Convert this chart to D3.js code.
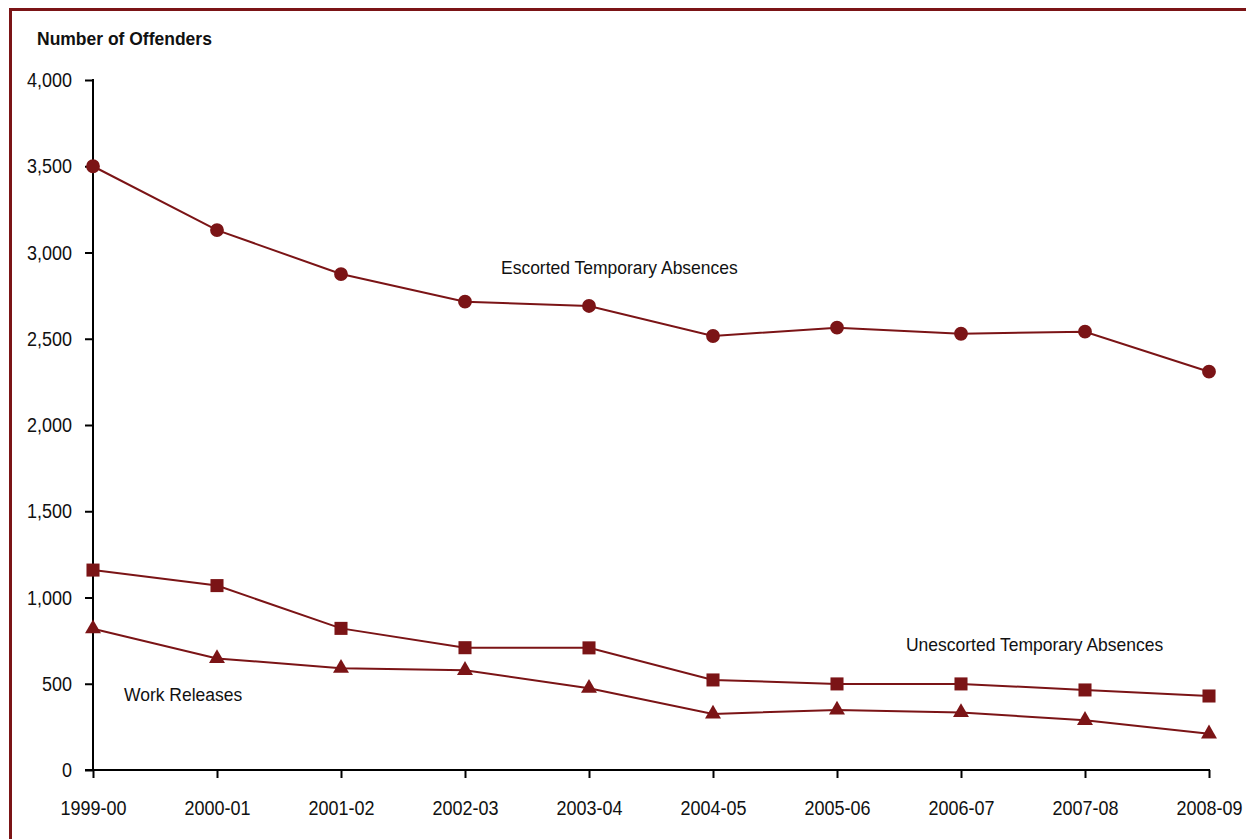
<!DOCTYPE html>
<html>
<head>
<meta charset="utf-8">
<script src="https://cdn.jsdelivr.net/npm/d3@7"></script>
<style>
  html, body { margin: 0; padding: 0; background: #fff; }
  svg { display: block; font-family: "Liberation Sans", Arial, sans-serif; }
</style>
</head>
<body>
<svg id="chart" width="1246" height="839"></svg>
<script>
const years = ["1999-00","2000-01","2001-02","2002-03","2003-04","2004-05","2005-06","2006-07","2007-08","2008-09"];
const escorted   = [3500, 3130, 2875, 2715, 2690, 2516, 2564, 2529, 2541, 2309];
const unescorted = [1159, 1069, 821, 709, 708, 522, 499, 499, 464, 429];
const workRel    = [819, 647, 590, 578, 474, 325, 348, 334, 288, 210];
const yTicks = [0, 500, 1000, 1500, 2000, 2500, 3000, 3500, 4000];
const yTitle = "Number of Offenders";

const color = "#7b1416";
const svg = d3.select("#chart");

// stretch glyphs vertically (reference font is taller than it is wide)
function stretch(sel, sy) {
  sel.each(function () {
    const t = d3.select(this);
    const tx = +t.attr("x") || 0, ty = +t.attr("y") || 0;
    t.attr("x", 0).attr("y", 0)
     .attr("transform", `translate(${tx},${ty}) scale(1,${sy})`);
  });
}

// frame border
svg.append("path")
  .attr("d", "M10.5,839 L10.5,9.5 L1246,9.5")
  .attr("fill", "none").attr("stroke", color).attr("stroke-width", 3);

const x = d3.scalePoint().domain(years).range([93, 1209]);
const y = d3.scaleLinear().domain([0, 4000]).range([770, 80]);

// y axis
const yAxis = svg.append("g").attr("transform", "translate(93,0)")
  .call(d3.axisLeft(y).tickValues(yTicks).tickSize(8).tickPadding(13)
        .tickFormat(d3.format(",")));
yAxis.select(".domain").attr("stroke", "#000").attr("stroke-width", 2).attr("d", "M0,79V770");
yAxis.selectAll(".tick line").attr("stroke", "#000").attr("stroke-width", 2);
yAxis.selectAll(".tick text").attr("font-size", 18).attr("fill", "#111")
  .attr("font-family", "Liberation Sans, Arial, sans-serif").attr("dy", null)
  .attr("y", 6.5);
stretch(yAxis.selectAll(".tick text"), 1.1);

// x axis
const xAxis = svg.append("g").attr("transform", "translate(0,770)")
  .call(d3.axisBottom(x).tickSize(8).tickPadding(22));
xAxis.select(".domain").attr("stroke", "#000").attr("stroke-width", 2).attr("d", "M85,0H1210");
xAxis.selectAll(".tick line").attr("stroke", "#000").attr("stroke-width", 2);
xAxis.selectAll(".tick text").attr("font-size", 18).attr("fill", "#111")
  .attr("font-family", "Liberation Sans, Arial, sans-serif").attr("dy", null)
  .attr("y", 45);
stretch(xAxis.selectAll(".tick text"), 1.12);

// y title
const title = svg.append("text").attr("x", 37).attr("y", 45)
  .attr("font-size", 17.5).attr("font-weight", "bold").attr("fill", "#111")
  .text(yTitle);
stretch(title, 1.06);

const line = d3.line().x((d, i) => x(years[i])).y(d => y(d));

function series(vals, symType, size) {
  svg.append("path").datum(vals).attr("d", line)
    .attr("fill", "none").attr("stroke", color).attr("stroke-width", 2);
  svg.append("g").selectAll("path").data(vals).join("path")
    .attr("transform", (d, i) => `translate(${x(years[i])},${y(d)})`)
    .attr("d", d3.symbol().type(symType).size(size))
    .attr("fill", color);
}
series(escorted, d3.symbolCircle, 150);
series(unescorted, d3.symbolSquare, 170);
series(workRel, d3.symbolTriangle, 110);

// series labels
const labels = [
  {t: "Escorted Temporary Absences", x: 501, y: 274},
  {t: "Unescorted Temporary Absences", x: 906, y: 651},
  {t: "Work Releases", x: 124, y: 701}
];
const lab = svg.append("g").selectAll("text").data(labels).join("text")
  .attr("x", d => d.x).attr("y", d => d.y)
  .attr("font-size", 17.5).attr("fill", "#111")
  .text(d => d.t);
stretch(lab, 1.1);
</script>
</body>
</html>
